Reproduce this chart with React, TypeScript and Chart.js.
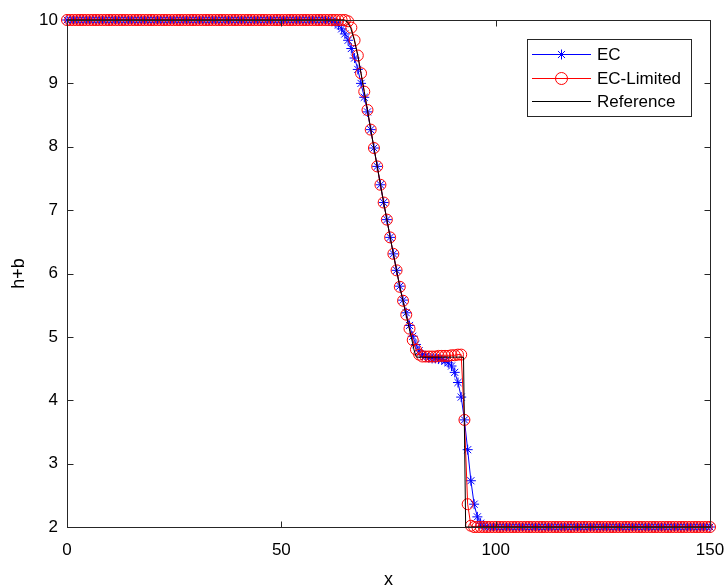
import React, { useEffect, useRef } from "react";
import { Chart, registerables } from "chart.js";

Chart.register(...registerables);

// Simulation mesh: 200 uniformly spaced cells on [0, 150]
const MESH_N = 200;
const X_MIN = 0;
const X_MAX = 150;

// EC-Limited (red circles), h+b per mesh point
const ecLimitedY: number[] = [
  10, 10, 10, 10, 10, 10, 10, 10, 10, 10, 10, 10, 10, 10, 10, 10, 10, 10, 10, 10,
  10, 10, 10, 10, 10, 10, 10, 10, 10, 10, 10, 10, 10, 10, 10, 10, 10, 10, 10, 10,
  10, 10, 10, 10, 10, 10, 10, 10, 10, 10, 10, 10, 10, 10, 10, 10, 10, 10, 10, 10,
  10, 10, 10, 10, 10, 10, 10, 10, 10, 10, 10, 10, 10, 10, 10, 10, 10, 10, 10, 10,
  10, 10, 10, 10, 10, 10, 10,
  9.98, 9.88, 9.68, 9.44, 9.16, 8.87, 8.58, 8.27, 7.98, 7.69,
  7.40, 7.12, 6.85, 6.57, 6.31, 6.05, 5.79, 5.57, 5.35, 5.13,
  4.95, 4.80, 4.72, 4.69, 4.69, 4.69, 4.69, 4.69, 4.70, 4.70,
  4.70, 4.70, 4.71, 4.71, 4.72, 4.72, 3.69, 2.36, 2.02,
  2, 2, 2, 2, 2, 2, 2, 2, 2, 2, 2, 2, 2, 2, 2, 2, 2, 2, 2, 2,
  2, 2, 2, 2, 2, 2, 2, 2, 2, 2, 2, 2, 2, 2, 2, 2, 2, 2, 2, 2,
  2, 2, 2, 2, 2, 2, 2, 2, 2, 2, 2, 2, 2, 2, 2, 2, 2, 2, 2, 2,
  2, 2, 2, 2, 2, 2, 2, 2, 2, 2, 2, 2, 2, 2,
];

// EC (blue stars), h+b per mesh point
const ecY: number[] = [
  10, 10, 10, 10, 10, 10, 10, 10, 10, 10, 10, 10, 10, 10, 10, 10, 10, 10, 10, 10,
  10, 10, 10, 10, 10, 10, 10, 10, 10, 10, 10, 10, 10, 10, 10, 10, 10, 10, 10, 10,
  10, 10, 10, 10, 10, 10, 10, 10, 10, 10, 10, 10, 10, 10, 10, 10, 10, 10, 10, 10,
  10, 10, 10, 10, 10, 10, 10, 10, 10, 10, 10, 10, 10, 10, 10, 10, 10, 10, 10, 10,
  9.995, 9.99, 9.98, 9.96, 9.92, 9.86, 9.78, 9.68, 9.55, 9.40,
  9.22, 9.00, 8.78, 8.55, 8.27, 7.98, 7.69, 7.40, 7.12, 6.85,
  6.57, 6.31, 6.05, 5.80, 5.58, 5.38, 5.18, 5.01, 4.88, 4.78,
  4.72, 4.69, 4.67, 4.66, 4.66, 4.65, 4.64, 4.62, 4.59, 4.54,
  4.44, 4.28, 4.05, 3.69, 3.22, 2.73, 2.36, 2.16, 2.06, 2.02,
  2.01,
  2, 2, 2, 2, 2, 2, 2, 2, 2, 2, 2, 2, 2, 2, 2, 2, 2, 2, 2, 2,
  2, 2, 2, 2, 2, 2, 2, 2, 2, 2, 2, 2, 2, 2, 2, 2, 2, 2, 2, 2,
  2, 2, 2, 2, 2, 2, 2, 2, 2, 2, 2, 2, 2, 2, 2, 2, 2, 2, 2, 2,
  2, 2, 2, 2, 2, 2, 2, 2, 2,
];

// Reference solution (black line)
const refX: number[] = [0, 64.6, 65.4, 66.2, 67.0, 67.84, 69.35, 71.61, 73.87, 76.13, 77.64, 79.15, 80.3, 81.0, 81.5, 92.5, 93.0, 150];
const refY: number[] = [10, 10, 9.97, 9.87, 9.69, 9.44, 8.87, 7.98, 7.12, 6.31, 5.79, 5.33, 5.0, 4.78, 4.68, 4.68, 2, 2];

const xTickValues = [0, 50, 100, 150];
const yTickValues = [2, 3, 4, 5, 6, 7, 8, 9, 10];
const xTitle = "x";
const yTitle = "h+b";
const seriesNames = ["EC", "EC-Limited", "Reference"];

const FONT_FAMILY = "'Liberation Sans', Arial, Helvetica, sans-serif";
const AXIS_COLOR = "#262626";

function meshX(i: number): number {
  return X_MIN + (i * (X_MAX - X_MIN)) / (MESH_N - 1);
}

function drawStar(ctx: CanvasRenderingContext2D, x: number, y: number, r: number) {
  ctx.beginPath();
  for (let k = 0; k < 4; k++) {
    const a = (k * Math.PI) / 4;
    ctx.moveTo(x - Math.cos(a) * r, y - Math.sin(a) * r);
    ctx.lineTo(x + Math.cos(a) * r, y + Math.sin(a) * r);
  }
  ctx.stroke();
}

const framePlugin = {
  id: "matlabFrame",
  afterDraw(chart: any) {
    const { ctx, chartArea: a, scales } = chart;
    const xs = scales.x;
    const ys = scales.y;
    const L = Math.round(a.left) + 0.5;
    const R = Math.round(a.right) + 0.5;
    const T = Math.round(a.top) + 0.5;
    const B = Math.round(a.bottom) + 0.5;
    ctx.save();
    ctx.strokeStyle = AXIS_COLOR;
    ctx.lineWidth = 1;
    ctx.strokeRect(L, T, R - L, B - T);
    const tl = 6;
    ctx.beginPath();
    for (const v of xTickValues) {
      const px = Math.round(xs.getPixelForValue(v)) + 0.5;
      ctx.moveTo(px, B);
      ctx.lineTo(px, B - tl);
      ctx.moveTo(px, T);
      ctx.lineTo(px, T + tl);
    }
    for (const v of yTickValues) {
      const py = Math.round(ys.getPixelForValue(v)) + 0.5;
      ctx.moveTo(L, py);
      ctx.lineTo(L + tl, py);
      ctx.moveTo(R, py);
      ctx.lineTo(R - tl, py);
    }
    ctx.stroke();

    // axis titles
    ctx.fillStyle = "#000";
    ctx.font = `18px ${FONT_FAMILY}`;
    ctx.textAlign = "center";
    ctx.textBaseline = "alphabetic";
    ctx.fillText(xTitle, (a.left + a.right) / 2, 585);
    ctx.save();
    ctx.translate(24, (a.top + a.bottom) / 2);
    ctx.rotate(-Math.PI / 2);
    ctx.textBaseline = "alphabetic";
    ctx.fillText(yTitle, 0, 0);
    ctx.restore();

    // legend
    const bx = 527.5, by = 39.5, bw = 164, bh = 77;
    ctx.fillStyle = "#fff";
    ctx.fillRect(bx, by, bw, bh);
    ctx.strokeStyle = AXIS_COLOR;
    ctx.lineWidth = 1;
    ctx.strokeRect(bx, by, bw, bh);
    const rows = [54, 78, 101];
    const colors = ["#0000ff", "#ff0000", "#000000"];
    const lx0 = 532, lx1 = 591, mx = 561.5;
    ctx.font = `17px ${FONT_FAMILY}`;
    ctx.textAlign = "left";
    ctx.textBaseline = "middle";
    rows.forEach((ry, k) => {
      ctx.strokeStyle = colors[k];
      ctx.lineWidth = 1;
      ctx.beginPath();
      ctx.moveTo(lx0, ry + 0.5);
      ctx.lineTo(lx1, ry + 0.5);
      ctx.stroke();
      if (k === 0) drawStar(ctx, mx, ry + 0.5, 5);
      if (k === 1) {
        ctx.beginPath();
        ctx.arc(mx, ry + 0.5, 6, 0, Math.PI * 2);
        ctx.stroke();
      }
      ctx.fillStyle = "#000";
      ctx.fillText(seriesNames[k], 597, ry + 1);
    });
    ctx.restore();
  },
};

export default function App() {
  const canvasRef = useRef<HTMLCanvasElement | null>(null);

  useEffect(() => {
    const canvas = canvasRef.current;
    if (!canvas) return;
    const ecPts = ecY.map((y, i) => ({ x: meshX(i), y }));
    const ecLimPts = ecLimitedY.map((y, i) => ({ x: meshX(i), y }));
    const refPts = refX.map((x, i) => ({ x, y: refY[i] }));

    const tickFont = { family: FONT_FAMILY, size: 17 };

    const chart = new Chart(canvas, {
      type: "line",
      data: {
        datasets: [
          {
            label: seriesNames[0],
            data: ecPts,
            borderColor: "#0000ff",
            borderWidth: 1,
            pointStyle: "star",
            pointRadius: 5,
            pointBorderColor: "#0000ff",
            pointBorderWidth: 1,
            pointBackgroundColor: "rgba(0,0,0,0)",
            fill: false,
            tension: 0,
            clip: false,
            order: 2,
          },
          {
            label: seriesNames[1],
            data: ecLimPts,
            borderColor: "#ff0000",
            borderWidth: 1,
            pointStyle: "circle",
            pointRadius: 5.5,
            pointBorderColor: "#ff0000",
            pointBorderWidth: 1,
            pointBackgroundColor: "rgba(0,0,0,0)",
            fill: false,
            tension: 0,
            clip: false,
            order: 1,
          },
          {
            label: seriesNames[2],
            data: refPts,
            borderColor: "#000000",
            borderWidth: 1,
            pointRadius: 0,
            fill: false,
            tension: 0,
            clip: false,
            order: 0,
          },
        ],
      } as any,
      options: {
        animation: false,
        responsive: false,
        maintainAspectRatio: false,
        events: [],
        layout: { padding: { left: 0, right: 18, top: 20, bottom: 0 } },
        plugins: { legend: { display: false }, tooltip: { enabled: false } },
        scales: {
          x: {
            type: "linear",
            min: X_MIN,
            max: X_MAX,
            afterBuildTicks: (s: any) => {
              s.ticks = xTickValues.map((v) => ({ value: v }));
            },
            ticks: { font: tickFont, color: "#000", padding: 13, maxRotation: 0 },
            grid: { display: false, drawTicks: false },
            border: { display: false },
            afterFit: (s: any) => {
              s.height = 59;
              s.paddingLeft = 0;
              s.paddingRight = 0;
            },
          },
          y: {
            type: "linear",
            min: 2,
            max: 10,
            afterBuildTicks: (s: any) => {
              s.ticks = yTickValues.map((v) => ({ value: v }));
            },
            ticks: { font: tickFont, color: "#000", padding: 9 },
            grid: { display: false, drawTicks: false },
            border: { display: false },
            afterFit: (s: any) => {
              s.width = 67;
              s.paddingTop = 0;
              s.paddingBottom = 0;
            },
          },
        },
      } as any,
      plugins: [framePlugin],
    });
    return () => chart.destroy();
  }, []);

  return (
    <div style={{ position: "absolute", left: 0, top: 0, width: 728, height: 586, background: "#fff" }}>
      <canvas ref={canvasRef} width={728} height={586} style={{ display: "block", width: 728, height: 586 }} />
    </div>
  );
}
